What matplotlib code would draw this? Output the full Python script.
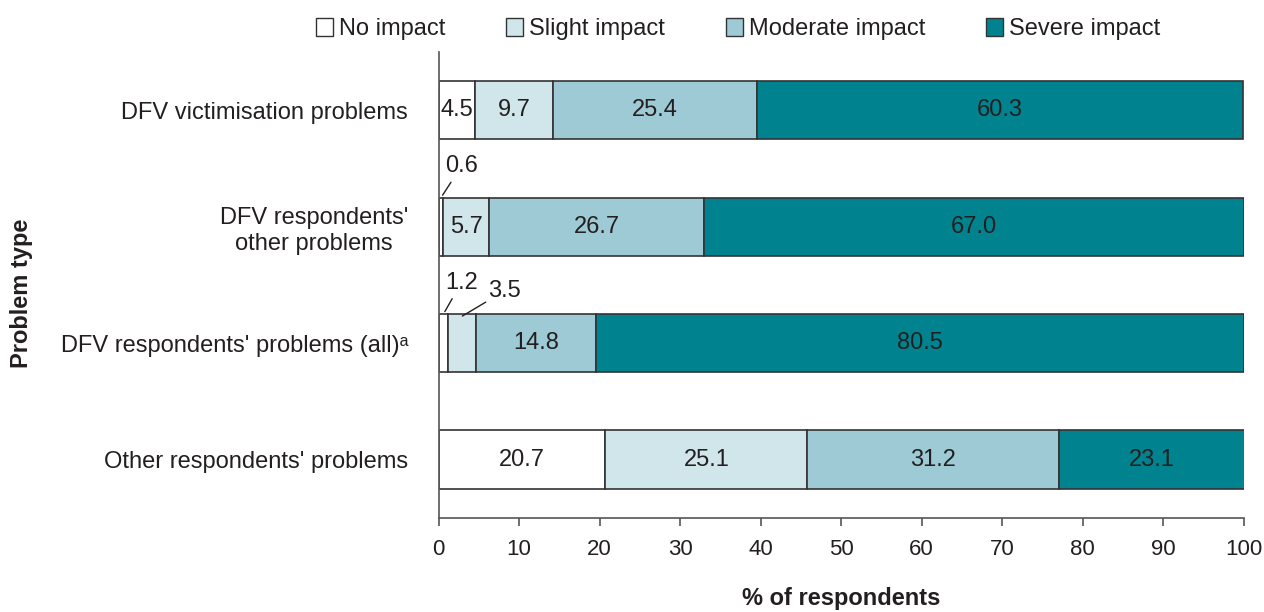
import matplotlib
matplotlib.use("Agg")
import matplotlib.pyplot as plt
from matplotlib.patches import Patch

plt.rcParams['font.family'] = ['Liberation Sans', 'DejaVu Sans']

categories = ["DFV victimisation problems",
              "DFV respondents'\nother problems",
              "DFV respondents' problems (all)ᵃ",
              "Other respondents' problems"]
series = ["No impact", "Slight impact", "Moderate impact", "Severe impact"]
no_impact = [4.5, 0.6, 1.2, 20.7]
slight = [9.7, 5.7, 3.5, 25.1]
moderate = [25.4, 26.7, 14.8, 31.2]
severe = [60.3, 67.0, 80.5, 23.1]
colors = ["#ffffff", "#d0e6eb", "#9dcad4", "#00838f"]
txt = "#231f20"
fs = 17

fig = plt.figure(figsize=(12.64, 6.12), dpi=100)
ax = fig.add_axes([0.347, 0.154, 0.637, 0.761])

data = [no_impact, slight, moderate, severe]
left = [0.0] * len(categories)
for vals, col, name in zip(data, colors, series):
    ax.barh(range(len(categories)), vals, left=left, height=0.5,
            color=col, edgecolor="#333333", linewidth=1.2, label=name)
    for i, (v, l) in enumerate(zip(vals, left)):
        if v >= 4:
            ax.text(l + v / 2, i, f"{v:.1f}", ha="center", va="center",
                    fontsize=fs, color=txt)
    left = [a + b for a, b in zip(left, vals)]

# small values with leader lines
ax.annotate(f"{no_impact[1]:.1f}", xy=(no_impact[1] / 2, 1 - 0.25),
            xytext=(0.8, 0.48), ha="left", va="center", fontsize=fs, color=txt,
            arrowprops=dict(arrowstyle="-", color=txt, lw=1))
ax.annotate(f"{no_impact[2]:.1f}", xy=(no_impact[2] / 2, 2 - 0.25),
            xytext=(0.8, 1.48), ha="left", va="center", fontsize=fs, color=txt,
            arrowprops=dict(arrowstyle="-", color=txt, lw=1))
ax.annotate(f"{slight[2]:.1f}", xy=(no_impact[2] + slight[2] / 2 - 0.3, 2 - 0.22),
            xytext=(6.2, 1.55), ha="left", va="center", fontsize=fs, color=txt,
            arrowprops=dict(arrowstyle="-", color=txt, lw=1, shrinkA=0))

ax.set_yticks(range(len(categories)))
ax.set_yticklabels(categories, fontsize=fs, color=txt, ha="right",
                   multialignment="center")
ax.tick_params(axis="y", length=0, pad=22)
ax.set_ylim(3.5, -0.5)
ax.set_xlim(0, 100)
ax.set_xticks(range(0, 101, 10))
ax.tick_params(axis="x", labelsize=16, colors=txt, length=6, width=1.2, pad=9)
ax.tick_params(axis="x", color="#555555")
for s in ["top", "right"]:
    ax.spines[s].set_visible(False)
for s in ["left", "bottom"]:
    ax.spines[s].set_color("#555555")
    ax.spines[s].set_linewidth(1.2)

ax.set_xlabel("% of respondents", fontsize=fs, fontweight="bold", color=txt, labelpad=20)
fig.text(0.017, 0.52, "Problem type", rotation=90, ha="center", va="center",
         fontsize=fs, fontweight="bold", color=txt)

handles = [Patch(facecolor=c, edgecolor="#333333", linewidth=1) for c in colors]
fig.legend(handles, series, loc="upper center", bbox_to_anchor=(0.584, 1.005),
           ncol=4, frameon=False, fontsize=fs, handlelength=0.7, handleheight=0.8,
           handletextpad=0.25, columnspacing=2.6, labelcolor=txt)

fig.savefig("out.png", dpi=100)
